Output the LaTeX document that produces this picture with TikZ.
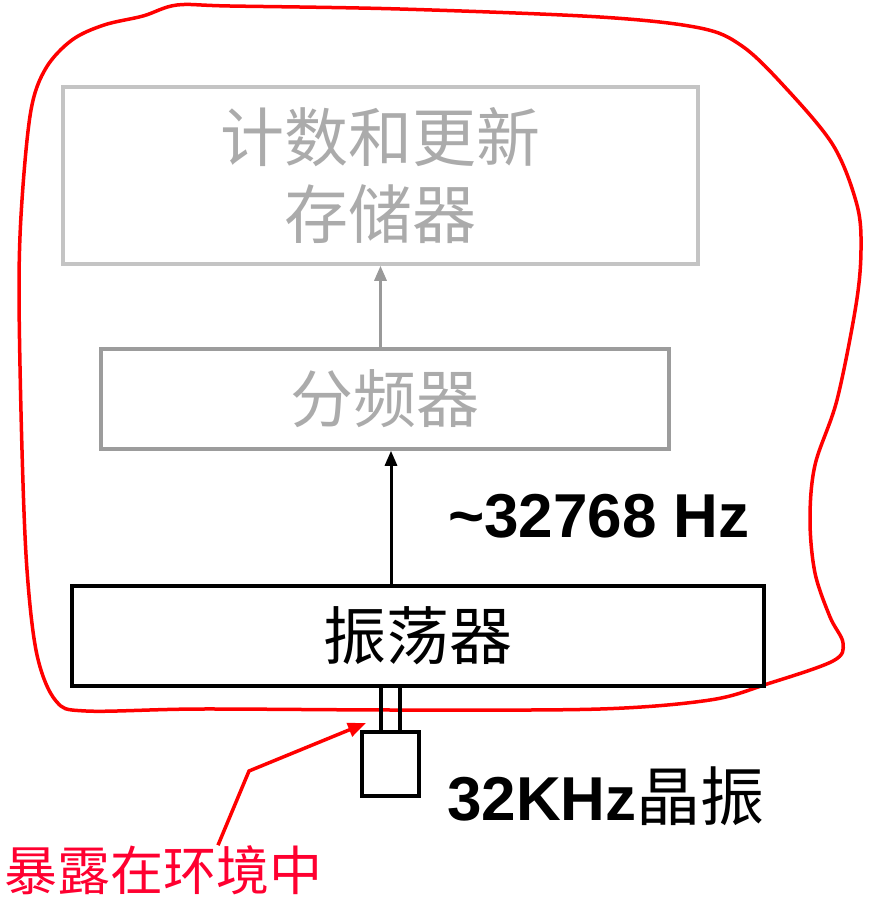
\documentclass[tikz,border=0pt]{standalone}
\usepackage{fontspec}
\setmainfont{Liberation Sans}
\newfontfamily\cjk{Noto Sans CJK SC}
\usetikzlibrary{arrows.meta}
\definecolor{boxlight}{HTML}{C4C4C4}
\definecolor{boxmid}{HTML}{9C9C9C}
\definecolor{txtgray}{HTML}{ABABAB}
\definecolor{arrgray}{HTML}{999999}
\definecolor{labred}{HTML}{FF0030}
\tikzset{
  blockbox/.style={draw, line width=3.5pt, inner sep=0pt, align=center},
  tipA/.style={-{Triangle[length=15pt,width=12pt]}, line width=3pt},
}
\begin{document}
\begin{tikzpicture}[x=1pt,y=-1pt]
\useasboundingbox (0,0) rectangle (872,903);
% red enclosure
\draw[red, line width=3.5pt] plot[smooth cycle, tension=0.55] coordinates {
 (22,200) (31,110) (46,68) (72,40) (104,25) (143,16) (177,5) (230,6) (400,9)
 (600,17) (700,28) (742,46) (783,85) (833,145) (857,205) (861,250) (856,305)
 (837,400) (815,465) (810,520) (815,573) (830,617) (843,643) (833,661)
 (767,684) (710,700) (600,709) (400,710) (200,709) (86,711) (56,701)
 (37,655) (27,570) (22,450) (19,290)};
% blocks
\node[blockbox, draw=boxlight, text=txtgray, minimum width=635pt, minimum height=177pt,
  font=\cjk\fontsize{64}{77}\selectfont] (mem) at (380.5,175.5) {计数和更新\\存储器};
\node[blockbox, draw=boxmid, text=txtgray, minimum width=568pt, minimum height=100pt,
  font=\cjk\fontsize{63}{72}\selectfont] (div) at (385,399) {分频器};
\node[blockbox, draw=black, text=black, minimum width=692pt, minimum height=100pt,
  font=\cjk\fontsize{63}{72}\selectfont] (osc) at (418,636) {振荡器};
\node[draw=black, line width=3.5pt, minimum width=57pt, minimum height=64pt, inner sep=0pt]
  (xtal) at (390.5,764) {};
% connectors
\draw[tipA, arrgray] (div.north -| mem.south) -- (mem.south);
\draw[tipA, black] ([xshift=6pt]osc.north -| div.south) -- ([xshift=6pt]div.south);
\draw[black, line width=3.5pt] ([xshift=-9.5pt]osc.south -| xtal.north) -- ([xshift=-9.5pt]xtal.north);
\draw[black, line width=3.5pt] ([xshift=9.5pt]osc.south -| xtal.north) -- ([xshift=9.5pt]xtal.north);
% labels
\node[anchor=base west, inner sep=0pt, font=\bfseries\fontsize{62}{70}\selectfont] (freq)
  at (448,537) {\textasciitilde 32768 Hz};
\node[anchor=base west, inner sep=0pt, font=\bfseries\fontsize{62}{70}\selectfont] (xlab)
  at (447,820) {32KHz{\cjk\mdseries\fontsize{64}{70}\selectfont 晶振}};
\node[anchor=west, inner sep=0pt, text=labred, font=\cjk\fontsize{53}{60}\selectfont] (exp)
  at (4,870) {暴露在环境中};
\coordinate (bend) at (249,771);
\coordinate (tip) at (366,723);
\draw[red, line width=3.5pt, -{Triangle[length=18pt,width=14pt]}] (exp.north -| 218,0) -- (bend) -- (tip);
\end{tikzpicture}
\end{document}
